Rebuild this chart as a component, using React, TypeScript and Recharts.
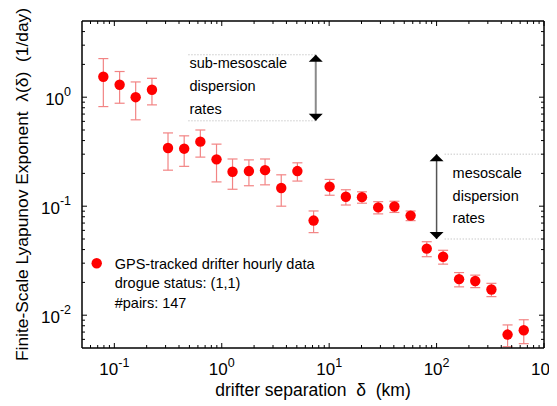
import React from 'react';
import {
  ScatterChart,
  Scatter,
  XAxis,
  YAxis,
  ErrorBar,
  ReferenceLine,
  ReferenceDot,
  Legend,
} from 'recharts';

// ---------- data ----------
const xValues = [0.079, 0.112, 0.158, 0.224, 0.316, 0.447, 0.632, 0.894, 1.26, 1.79, 2.53, 3.58, 5.06, 7.16, 10.1, 14.3, 20.2, 28.6, 40.5, 57.3, 81, 115, 162, 229, 324, 458, 648];
const yValues = [1.54, 1.3, 1.0, 1.17, 0.342, 0.337, 0.391, 0.269, 0.207, 0.21, 0.214, 0.147, 0.21, 0.0738, 0.151, 0.122, 0.121, 0.0975, 0.0993, 0.082, 0.0408, 0.0344, 0.0214, 0.0206, 0.0172, 0.00664, 0.00728];
const errValues = [0.72, 0.42, 0.38, 0.32, 0.128, 0.105, 0.109, 0.102, 0.064, 0.056, 0.057, 0.047, 0.04, 0.0166, 0.025, 0.0195, 0.0145, 0.0125, 0.0117, 0.0083, 0.0064, 0.005, 0.0032, 0.0027, 0.0024, 0.0015, 0.0018];

const xDomain = [0.05, 1000];
const yDomain = [0.005, 5];

const xMajorTicks = [0.1, 1, 10, 100, 1000];
const xMajorLabels = ['-1', '0', '1', '2', '3'];
const xMinorTicks = [0.06, 0.07, 0.08, 0.09, 0.2, 0.3, 0.4, 0.5, 0.6, 0.7, 0.8, 0.9, 2, 3, 4, 5, 6, 7, 8, 9, 20, 30, 40, 50, 60, 70, 80, 90, 200, 300, 400, 500, 600, 700, 800, 900];
const yMajorTicks = [0.01, 0.1, 1];
const yMajorLabels = ['-2', '-1', '0'];
const yMinorTicks = [0.006, 0.007, 0.008, 0.009, 0.02, 0.03, 0.04, 0.05, 0.06, 0.07, 0.08, 0.09, 0.2, 0.3, 0.4, 0.5, 0.6, 0.7, 0.8, 0.9, 2, 3, 4];

const xTitle = 'drifter separation\u00A0\u00A0δ\u00A0\u00A0(km)';
const yTitle = 'Finite-Scale Lyapunov Exponent\u00A0\u00A0λ(δ)\u00A0\u00A0(1/day)';

const legendLines = ['GPS-tracked drifter hourly data', 'drogue status: (1,1)', '#pairs: 147'];

// annotation: sub-mesoscale band
const subMesoLevels = [2.45, 0.607];
const subMesoLineStartX = 0.49;
const subMesoArrowX = 7.5;
const subMesoText = ['sub-mesoscale', 'dispersion', 'rates'];
// annotation: mesoscale band
const mesoLevels = [0.3, 0.05];
const mesoLineStartX = 119;
const mesoLineEndX = 1000;
const mesoArrowX = 100;
const mesoTextX = 141;
const mesoText = ['mesoscale', 'dispersion', 'rates'];

const points = xValues.map((x, i) => ({ x, y: yValues[i], err: errValues[i] }));

// ---------- styles ----------
const FONT = '"Liberation Sans", Arial, Helvetica, sans-serif';
const RED = '#ff0000';
const ERR = '#f28484';

const sortNum = (a: number[]) => [...a].sort((p, q) => p - q);
const xTicks = sortNum([...xMajorTicks, ...xMinorTicks]);
const yTicks = sortNum([...yMajorTicks, ...yMinorTicks]);

const majorIndex = (majors: number[], v: number) =>
  majors.findIndex((m) => Math.abs(m - v) / m < 1e-6);

const makeTick = (side: 'bottom' | 'top' | 'left' | 'right', majors: number[], labels: string[]) =>
  (props: any) => {
    const { x, y, payload } = props;
    const idx = majorIndex(majors, payload.value);
    const len = idx >= 0 ? 5 : 3;
    let line;
    if (side === 'bottom') line = <line x1={x} y1={y} x2={x} y2={y - len} stroke="#000" strokeWidth={1} />;
    else if (side === 'top') line = <line x1={x} y1={y} x2={x} y2={y + len} stroke="#000" strokeWidth={1} />;
    else if (side === 'left') line = <line x1={x} y1={y} x2={x + len} y2={y} stroke="#000" strokeWidth={1} />;
    else line = <line x1={x} y1={y} x2={x - len} y2={y} stroke="#000" strokeWidth={1} />;
    let label = null;
    if (idx >= 0 && side === 'bottom') {
      label = (
        <text x={x} y={y + 27} textAnchor="middle" fontFamily={FONT} fontSize={17} fill="#000">
          <tspan>10</tspan>
          <tspan dy={-8} fontSize={12.5}>{labels[idx]}</tspan>
        </text>
      );
    } else if (idx >= 0 && side === 'left') {
      label = (
        <text x={x - 11} y={y + 8} textAnchor="end" fontFamily={FONT} fontSize={17} fill="#000">
          <tspan>10</tspan>
          <tspan dy={-9} fontSize={12.5}>{labels[idx]}</tspan>
        </text>
      );
    }
    return (
      <g>
        {line}
        {label}
      </g>
    );
  };

const XTitle = (props: any) => {
  const vb = props.viewBox || {};
  return (
    <text x={vb.x + vb.width / 2} y={vb.y + 48} textAnchor="middle" fontFamily={FONT} fontSize={17.5} fill="#000">
      {xTitle}
    </text>
  );
};

const YTitle = (props: any) => {
  const vb = props.viewBox || {};
  const cx = vb.x + 20;
  const cy = vb.y + vb.height / 2;
  return (
    <text x={cx} y={cy} transform={`rotate(-90 ${cx} ${cy})`} textAnchor="middle" fontFamily={FONT} fontSize={17.4} fill="#000">
      {yTitle}
    </text>
  );
};

const RedDot = (props: any) => {
  const { cx, cy } = props;
  if (cx == null || cy == null) return null;
  return <circle cx={cx} cy={cy} r={5.2} fill={RED} />;
};

const headUp = (color: string) => (props: any) => {
  const { cx, cy } = props;
  return <polygon points={`${cx},${cy} ${cx - 7},${cy + 7} ${cx + 7},${cy + 7}`} fill={color} />;
};
const headDown = (color: string) => (props: any) => {
  const { cx, cy } = props;
  return <polygon points={`${cx},${cy} ${cx - 7},${cy - 7} ${cx + 7},${cy - 7}`} fill={color} />;
};

const textBlock = (lines: string[], offsets: number[], dx: number) => (props: any) => {
  const { cx, cy } = props;
  return (
    <g>
      {lines.map((t, i) => (
        <text key={i} x={cx + dx} y={cy + offsets[i]} fontFamily={FONT} fontSize={14.5} fill="#000">
          {t}
        </text>
      ))}
    </g>
  );
};

const LegendBox = () => (
  <svg width={260} height={70} style={{ display: 'block', overflow: 'visible' }}>
    <circle cx={14.7} cy={13.3} r={5.2} fill={RED} />
    {legendLines.map((t, i) => (
      <text key={i} x={32.7} y={18.5 + i * 19.5} fontFamily={FONT} fontSize={14.5} fill="#000">
        {t}
      </text>
    ))}
  </svg>
);

const axisLineStyle = { stroke: '#000', strokeWidth: 1.5 };

export default function App() {
  return (
    <div style={{ width: 549, height: 398 }}>
      <ScatterChart
        width={549}
        height={398}
        margin={{ top: 12, right: 12, bottom: 0, left: 0 }}
        style={{ fontFamily: FONT }}
      >
        <XAxis
          xAxisId="bottom"
          dataKey="x"
          type="number"
          scale="log"
          domain={xDomain}
          allowDataOverflow
          ticks={xTicks}
          interval={0}
          tickSize={0}
          tickMargin={0}
          tickLine={false}
          axisLine={axisLineStyle}
          height={58}
          tick={makeTick('bottom', xMajorTicks, xMajorLabels)}
          label={<XTitle />}
        />
        <XAxis
          xAxisId="top"
          orientation="top"
          dataKey="x"
          type="number"
          scale="log"
          domain={xDomain}
          allowDataOverflow
          ticks={xTicks}
          interval={0}
          tickSize={0}
          tickMargin={0}
          tickLine={false}
          axisLine={axisLineStyle}
          height={1}
          tick={makeTick('top', xMajorTicks, xMajorLabels)}
        />
        <YAxis
          yAxisId="left"
          dataKey="y"
          type="number"
          scale="log"
          domain={yDomain}
          allowDataOverflow
          ticks={yTicks}
          interval={0}
          tickSize={0}
          tickMargin={0}
          tickLine={false}
          axisLine={axisLineStyle}
          width={74}
          tick={makeTick('left', yMajorTicks, yMajorLabels)}
          label={<YTitle />}
        />
        <YAxis
          yAxisId="right"
          orientation="right"
          dataKey="y"
          type="number"
          scale="log"
          domain={yDomain}
          allowDataOverflow
          ticks={yTicks}
          interval={0}
          tickSize={0}
          tickMargin={0}
          tickLine={false}
          axisLine={axisLineStyle}
          width={1}
          tick={makeTick('right', yMajorTicks, yMajorLabels)}
        />

        {/* sub-mesoscale annotation */}
        {subMesoLevels.map((lv, i) => (
          <ReferenceLine
            key={'sm' + i}
            xAxisId="bottom"
            yAxisId="left"
            segment={[{ x: subMesoLineStartX, y: lv }, { x: subMesoArrowX, y: lv }]}
            stroke="#b0b0b0"
            strokeDasharray="1 2"
            strokeWidth={1}
          />
        ))}
        <ReferenceLine
          xAxisId="bottom"
          yAxisId="left"
          segment={[{ x: subMesoArrowX, y: subMesoLevels[0] }, { x: subMesoArrowX, y: subMesoLevels[1] }]}
          stroke="#8a8a8a"
          strokeWidth={2}
        />
        <ReferenceDot xAxisId="bottom" yAxisId="left" x={subMesoArrowX} y={subMesoLevels[0]} shape={headUp('#000')} />
        <ReferenceDot xAxisId="bottom" yAxisId="left" x={subMesoArrowX} y={subMesoLevels[1]} shape={headDown('#000')} />
        <ReferenceDot
          xAxisId="bottom"
          yAxisId="left"
          x={subMesoLineStartX}
          y={subMesoLevels[0]}
          shape={textBlock(subMesoText, [13.7, 36.5, 59.5], 1)}
        />

        {/* mesoscale annotation */}
        {mesoLevels.map((lv, i) => (
          <ReferenceLine
            key={'m' + i}
            xAxisId="bottom"
            yAxisId="left"
            segment={[{ x: mesoLineStartX, y: lv }, { x: mesoLineEndX, y: lv }]}
            stroke="#b0b0b0"
            strokeDasharray="1 2"
            strokeWidth={1}
          />
        ))}
        <ReferenceLine
          xAxisId="bottom"
          yAxisId="left"
          segment={[{ x: mesoArrowX, y: mesoLevels[0] }, { x: mesoArrowX, y: mesoLevels[1] }]}
          stroke="#555"
          strokeWidth={1.5}
        />
        <ReferenceDot xAxisId="bottom" yAxisId="left" x={mesoArrowX} y={mesoLevels[0]} shape={headUp('#000')} />
        <ReferenceDot xAxisId="bottom" yAxisId="left" x={mesoArrowX} y={mesoLevels[1]} shape={headDown('#000')} />
        <ReferenceDot
          xAxisId="bottom"
          yAxisId="left"
          x={mesoTextX}
          y={mesoLevels[0]}
          shape={textBlock(mesoText, [24.2, 46.7, 69.2], 0)}
        />

        <Scatter
          xAxisId="bottom"
          yAxisId="left"
          name={legendLines[0]}
          data={points}
          fill={RED}
          shape={RedDot}
          isAnimationActive={false}
        >
          <ErrorBar dataKey="err" direction="y" width={5} stroke={ERR} strokeWidth={1.2} isAnimationActive={false} />
        </Scatter>

        <Legend
          layout="horizontal"
          verticalAlign="middle"
          align="center"
          wrapperStyle={{ left: 74, top: 242, width: 260, height: 70, margin: 0, padding: 0 }}
          content={() => <LegendBox />}
        />
      </ScatterChart>
    </div>
  );
}
